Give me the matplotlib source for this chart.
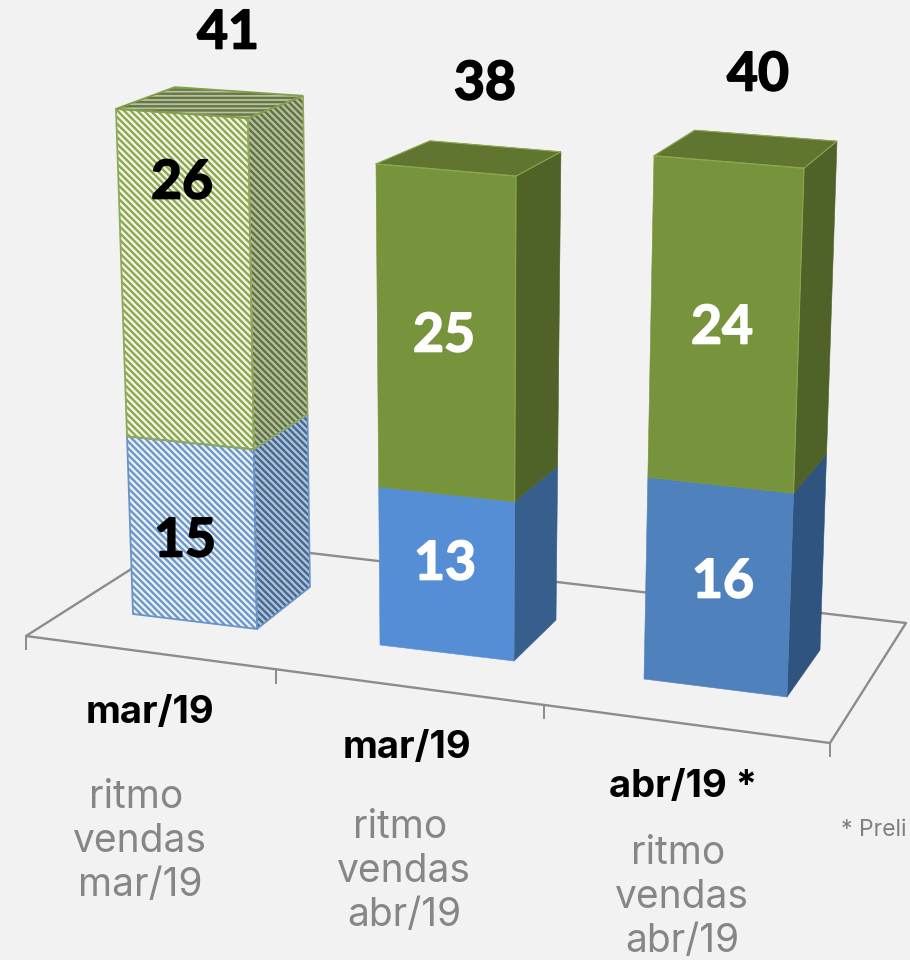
import matplotlib
matplotlib.use('Agg')
import matplotlib.pyplot as plt
import matplotlib.patheffects as pe
from matplotlib.patches import Polygon
import numpy as np

periods = ['mar/19', 'mar/19', 'abr/19 *']
rhythm = ['mar/19', 'abr/19', 'abr/19']
blue_values = [15, 13, 16]
green_values = [26, 25, 24]
footnote = '* Preli'

# floor footprint of every bar in picture pixels: front left, front right, back right, back left
bases = [
    [(133, 614), (257, 629), (310, 587), (190, 575)],
    [(380, 645), (514, 661), (556, 620), (433, 606)],
    [(644, 679), (787, 697), (820, 650), (680, 635)],
]
# pixels per unit of value for the same corners
rises = [
    [(-0.415, -12.32), (-0.22, -12.46), (-0.17, -11.98), (-0.37, -11.9)],
    [(-0.105, -12.66), (0.053, -12.76), (0.13, -12.32), (-0.08, -12.24)],
    [(0.25, -13.08), (0.425, -13.22), (0.425, -12.72), (0.37, -12.62)],
]
depth = 0.94  # perspective shortening towards the bottom

BG = '#F2F2F2'
NUM_FONT = 'Lato'
LABEL_FONT = 'Inter'

plt.rcParams['hatch.linewidth'] = 1.7

fig = plt.figure(figsize=(9.1, 9.6), dpi=100, facecolor=BG)
ax = fig.add_axes([0, 0, 1, 1])
ax.set_xlim(0, 910)
ax.set_ylim(960, 0)
ax.axis('off')

# floor
ax.plot([310, 906, 830, 26, 180], [553, 623, 743, 636, 538], color='#8C8C8C', lw=1.7, zorder=1)
for x, y in [(26, 636), (276, 670), (544, 705), (830, 743)]:
    ax.plot([x, x], [y, y + 13], color='#8C8C8C', lw=1.4, zorder=1)


def corners(bar, value, total):
    t = value / total
    f = depth * t / (1 - t + depth * t) if t < 1 else 1.0
    return [(bx + rx * total * f, by + ry * total * f)
            for (bx, by), (rx, ry) in zip(bases[bar], rises[bar])]


def face(pts, color, hatch=None, hatch_color=None, edge=None, lw=1.0, z=2):
    if hatch:
        ax.add_patch(Polygon(pts, closed=True, facecolor=color, edgecolor=hatch_color,
                             hatch=hatch, lw=0, zorder=z))
    else:
        ax.add_patch(Polygon(pts, closed=True, facecolor=color, edgecolor=color, lw=0.4, zorder=z))
    if edge:
        ax.add_patch(Polygon(pts, closed=True, fill=False, edgecolor=edge, lw=lw, zorder=z + 0.1))


solid = [
    None,
    {'blue': ('#558ED5', '#375F8E'), 'green': ('#77933C', '#4F6228')},
    {'blue': ('#4F81BD', '#2F5480'), 'green': ('#77933C', '#4F6228')},
]

stripes = '\\' * 5

for i in range(3):
    total = blue_values[i] + green_values[i]
    low = corners(i, 0, total)
    mid = corners(i, blue_values[i], total)
    top = corners(i, total, total)
    front = lambda a, b: [a[0], a[1], b[1], b[0]]
    side = lambda a, b: [a[1], a[2], b[2], b[1]]

    if i == 0:
        face(side(low, mid), '#AFC2D8', stripes, '#44688F', '#6A93C8', 1.2)
        face(front(low, mid), '#E9F1F9', stripes, '#6F97C6', '#6A93C8', 1.3)
        face(side(mid, top), '#B5BEA0', stripes, '#5F7340', '#8FA95A', 1.2)
        face(front(mid, top), '#F2F6E2', stripes, '#8DA653', '#8FA95A', 1.3)
        face(top, '#B9BDAE', '----', '#65793A', '#82A04A', 1.3)
    else:
        front_b, side_b = solid[i]['blue']
        front_g, side_g = solid[i]['green']
        face(side(low, mid), side_b)
        face(front(low, mid), front_b)
        face(side(mid, top), side_g)
        face(front(mid, top), front_g)
        face(top, '#5F7530', edge='#8CA84E', lw=0.8)
        ax.plot(*zip(top[0], top[1], mid[1]), color='#8CA84E', lw=0.8, zorder=3)

# value labels
total_pos = [(228, 33), (485, 84), (758, 75)]
green_pos = [(182, 183), (444, 336), (722, 328)]
blue_pos = [(185, 541), (445, 564), (723, 582)]
for i in range(3):
    inner = 'black' if i == 0 else 'white'
    labels = [(total_pos[i], blue_values[i] + green_values[i], 'black'),
              (green_pos[i], green_values[i], inner),
              (blue_pos[i], blue_values[i], inner)]
    for pos, val, col in labels:
        t = ax.text(*pos, str(val), color=col, fontsize=38.5, fontweight='bold',
                    family=NUM_FONT, ha='center', va='center', zorder=5)
        t.set_path_effects([pe.withStroke(linewidth=1.2, foreground=col)])

# category labels
period_pos = [(150, 713), (407, 748), (683, 787)]
gray_x = [140, 404, 682]
gray_y = [797, 827, 853]
for i in range(3):
    ax.text(*period_pos[i], periods[i], color='black', fontsize=27.5, fontweight='bold',
            family=LABEL_FONT, ha='center', va='center', zorder=5)
    lines = ['ritmo', 'vendas', rhythm[i]]
    for j, line in enumerate(lines):
        x = gray_x[i] - 4 if j == 0 else gray_x[i]
        ax.text(x, gray_y[i] + j * 44, line, color='#868686', fontsize=28,
                family=LABEL_FONT, ha='center', va='center', zorder=5)

ax.text(841, 830, footnote, color='#7F7F7F', fontsize=16.5, family=LABEL_FONT,
        ha='left', va='center', zorder=5)

fig.savefig('out.png', dpi=100, facecolor=BG)
